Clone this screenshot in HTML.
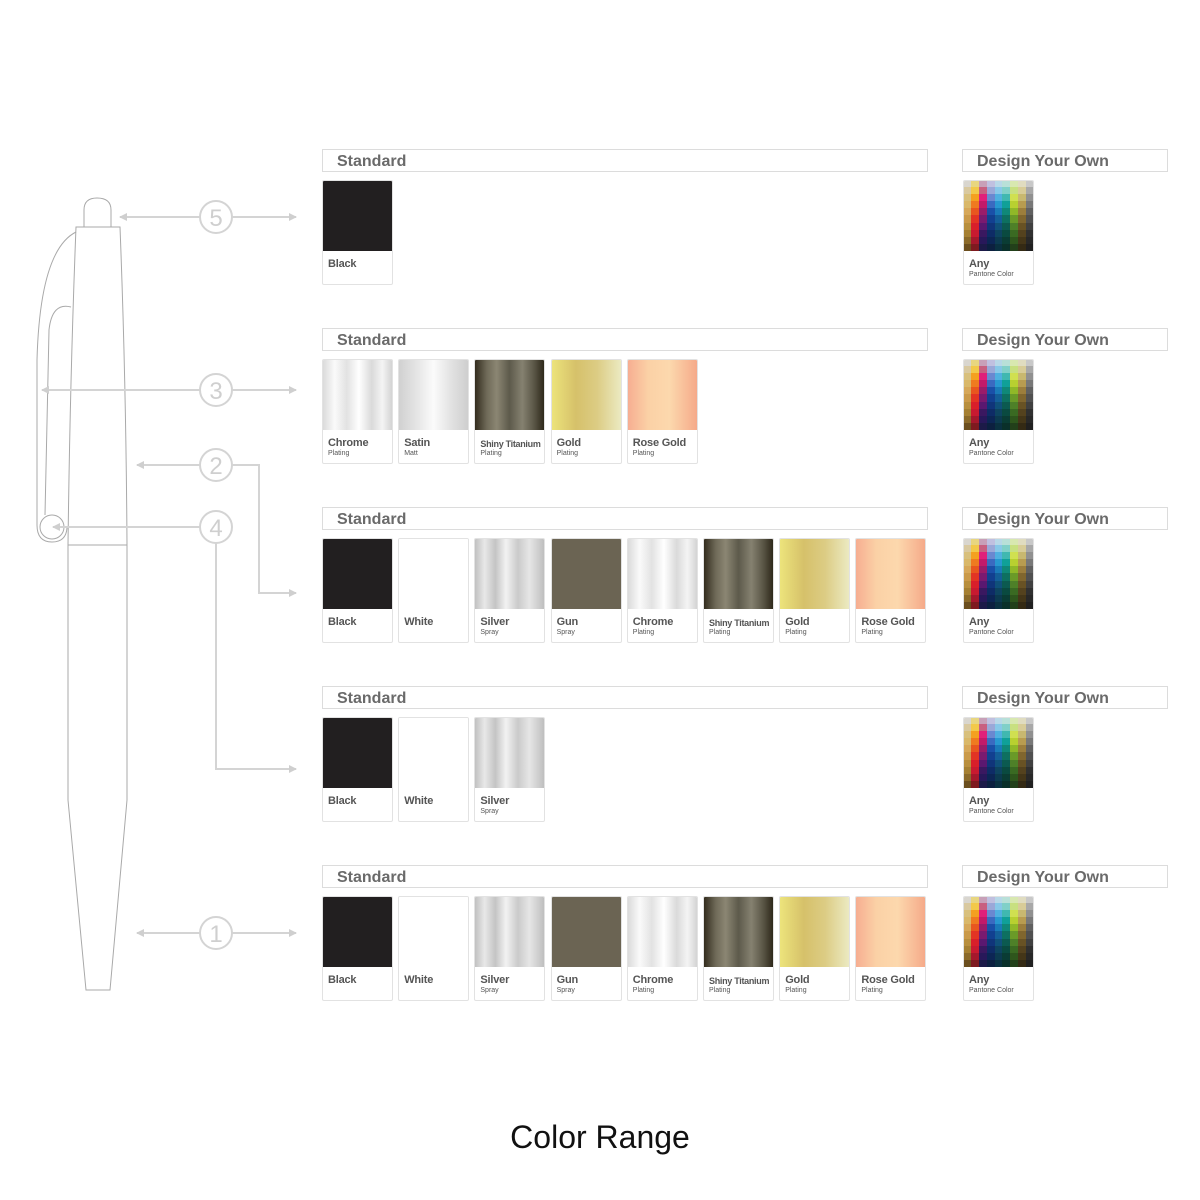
<!DOCTYPE html>
<html><head><meta charset="utf-8">
<style>
html,body{margin:0;padding:0;background:#fff;}
#root{position:relative;width:1200px;height:1200px;overflow:hidden;font-family:"Liberation Sans",Arial,sans-serif;}
.hdr{position:absolute;height:23px;border:1px solid #dcdcdc;box-sizing:border-box;font-weight:bold;color:#6a6a6a;font-size:16px;line-height:23px;padding-left:14px;background:#fff;}
.card{position:absolute;width:71px;height:105px;border:1px solid #e2e2e2;border-radius:2px;box-sizing:border-box;background:#fff;overflow:hidden;}
.sw{position:absolute;left:-1px;top:-1px;width:71px;height:71px;}
.nm{position:absolute;left:5px;top:77px;font-size:11px;font-weight:bold;color:#555;white-space:nowrap;letter-spacing:-0.2px;}
.sub{position:absolute;left:5px;top:90px;font-size:7px;color:#555;white-space:nowrap;}
.pg{position:absolute;left:-1px;top:-1px;width:71px;height:71px;display:grid;grid-template-columns:repeat(9,1fr);grid-template-rows:repeat(10,1fr);grid-auto-flow:column;}
#title{position:absolute;left:0;width:1200px;top:1119px;text-align:center;font-size:32px;color:#111;}
</style></head><body><div id="root">
<svg width="1200" height="1200" style="position:absolute;left:0;top:0" xmlns="http://www.w3.org/2000/svg">
<defs>
<marker id="ah" markerWidth="8" markerHeight="8" refX="7" refY="4" orient="auto" markerUnits="userSpaceOnUse"><path d="M0,0 L8,4 L0,8 z" fill="#cfcfcf"/></marker>
</defs>
<g fill="none" stroke="#a9a9a9" stroke-width="1">
<path d="M84,227 L84,210 Q84,198 97,198 Q111,198 111,210 L111,227"/>
<path d="M76,227 L120,227 Q126,380 127,545 L127,800 L110,990 L86,990 L68,800 L68,545 Q70,380 76,227 Z"/>
<path d="M68,545 L127,545"/>
<path d="M76,232 Q40,250 37,360 L37,525 Q37,542 52,542 Q66,542 67,528"/>
<path d="M71,307 Q52,302 49,330 L45,515"/>
<circle cx="52" cy="527" r="12"/>
</g>
<g fill="none" stroke="#d4d4d4" stroke-width="2">
<line x1="200" y1="217" x2="120" y2="217" marker-end="url(#ah)"/>
<line x1="232" y1="217" x2="296" y2="217" marker-end="url(#ah)"/>
<line x1="200" y1="390" x2="42" y2="390" marker-end="url(#ah)"/>
<line x1="232" y1="390" x2="296" y2="390" marker-end="url(#ah)"/>
<line x1="200" y1="465" x2="137" y2="465" marker-end="url(#ah)"/>
<polyline points="232,465 259,465 259,593 296,593" marker-end="url(#ah)"/>
<line x1="200" y1="527" x2="53" y2="527" marker-end="url(#ah)"/>
<polyline points="216,543 216,769 296,769" marker-end="url(#ah)"/>
<line x1="200" y1="933" x2="137" y2="933" marker-end="url(#ah)"/>
<line x1="232" y1="933" x2="296" y2="933" marker-end="url(#ah)"/>
<circle cx="216" cy="217" r="16"/><circle cx="216" cy="390" r="16"/><circle cx="216" cy="465" r="16"/><circle cx="216" cy="527" r="16"/><circle cx="216" cy="933" r="16"/>
</g>
<g fill="#cfcfcf" font-family="Liberation Sans, sans-serif" font-size="24" text-anchor="middle">
<text x="216" y="226">5</text><text x="216" y="399">3</text><text x="216" y="474">2</text><text x="216" y="536">4</text><text x="216" y="942">1</text>
</g>
</svg>
<div id="content"></div>
<div id="title">Color Range</div>
</div>
<script>
var G={
Black:'#221f20',White:'#ffffff',
Silver:'linear-gradient(90deg,#bdbdbd 0%,#e8e8e8 15%,#c4c4c4 30%,#f2f2f2 45%,#cacaca 62%,#e6e6e6 78%,#bcbcbc 100%)',
Gun:'#6b6453',
Chrome:'linear-gradient(90deg,#d8d8d8 0%,#fafafa 18%,#e2e2e2 35%,#ffffff 52%,#dadada 70%,#f4f4f4 85%,#d0d0d0 100%)',
Satin:'linear-gradient(90deg,#cfcfcf 0%,#e8e8e8 30%,#fbfbfb 50%,#e2e2e2 75%,#cdcdcd 100%)',
Ti:'linear-gradient(90deg,#2e2719 0%,#6f6a58 18%,#8b8673 32%,#5d5a4b 50%,#858170 68%,#5c5848 84%,#2a2416 100%)',
Gold:'linear-gradient(90deg,#ede57c 0%,#d6c16a 35%,#dccc84 65%,#ecebc4 100%)',
Rose:'linear-gradient(90deg,#f6ac90 0%,#fbd1a6 30%,#fcd8ad 60%,#f5a888 100%)'
};
var cols=[
['#d9d6cf','#d9c9a0','#d8c07d','#d9b86a','#d6a85a','#ca9a4a','#b88f3e','#a58033','#8b6a2a','#6b4e1e'],
['#e8d680','#f2c94a','#f4a020','#ef7a20','#e8561f','#e23424','#d81f2a','#c81a30','#a5182c','#7e1a20'],
['#c8a0b8','#c86080','#e0207a','#c21a6a','#9a1c6a','#7a1a70','#5a1870','#3a1860','#28185a','#1c1a48'],
['#c0c0e0','#9aa8d8','#6a88d0','#3a6ac0','#1a50a8','#124090','#10357a','#0e2c66','#0c2655','#0c2040'],
['#b8d8e8','#88c8e8','#50b0e0','#2898d0','#1a7ab8','#145e98','#10507a','#0e4460','#0c3a50','#0a3040'],
['#b8e0d8','#80d0c8','#40b8b0','#10a098','#108878','#0e7060','#0c5a50','#0a4a40','#0a3c34','#0a302a'],
['#d8e8b0','#c8e080','#d0e050','#b8d030','#90b828','#6a9a28','#4e8028','#3a6a22','#2e561c','#22401a'],
['#e0dcc0','#d8cc98','#c8b870','#b89c50','#9c7e3c','#80662e','#685224','#54421e','#443618','#342a14'],
['#c8c8c8','#a8a8a8','#909090','#787878','#606060','#505050','#404040','#303030','#282828','#202020']];
var pg='';cols.forEach(function(c){c.forEach(function(v){pg+='<div style="background:'+v+'"></div>';});});
var full=[['Black','Black',''],['White','White',''],['Silver','Silver','Spray'],['Gun','Gun','Spray'],['Chrome','Chrome','Plating'],['Ti','Shiny Titanium','Plating'],['Gold','Gold','Plating'],['Rose','Rose Gold','Plating']];
var rows=[
[['Black','Black','']],
[['Chrome','Chrome','Plating'],['Satin','Satin','Matt'],['Ti','Shiny Titanium','Plating'],['Gold','Gold','Plating'],['Rose','Rose Gold','Plating']],
full,
[['Black','Black',''],['White','White',''],['Silver','Silver','Spray']],
full];
var h='';
rows.forEach(function(r,i){
 var y=149+179*i;
 h+='<div class="hdr" style="left:322px;top:'+y+'px;width:606px">Standard</div>';
 h+='<div class="hdr" style="left:962px;top:'+y+'px;width:206px">Design Your Own</div>';
 r.forEach(function(s,j){
  var x=322+j*76.2;
  var fs=s[1]=='Shiny Titanium'?'font-size:9px;top:79px;letter-spacing:-0.3px':'';
  h+='<div class="card" style="left:'+x+'px;top:'+(y+31)+'px"><div class="sw" style="background:'+G[s[0]]+'"></div><div class="nm" style="'+fs+'">'+s[1]+'</div>'+(s[2]?'<div class="sub">'+s[2]+'</div>':'')+'</div>';
 });
 h+='<div class="card" style="left:963px;top:'+(y+31)+'px"><div class="pg">'+pg+'</div><div class="nm">Any</div><div class="sub">Pantone Color</div></div>';
});
document.getElementById('content').innerHTML=h;
</script>
</body></html>
